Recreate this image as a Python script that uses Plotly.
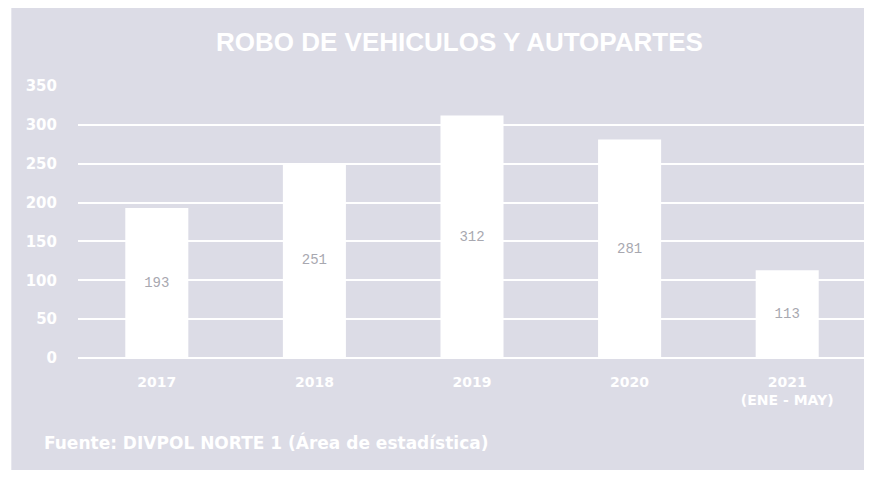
import plotly.graph_objects as go

categories = ["2017", "2018", "2019", "2020", "2021<br>(ENE - MAY)"]
values = [193, 251, 312, 281, 113]
y_ticks = [0, 50, 100, 150, 200, 250, 300, 350]

title_text = "ROBO DE VEHICULOS Y AUTOPARTES"
source_text = "Fuente: DIVPOL NORTE 1 (Área de estadística)"

BG = "#dcdce6"
FONT = "Liberation Sans"
FONT2 = "DejaVu Sans"

fig = go.Figure()
fig.add_trace(go.Bar(
    x=categories, y=values,
    marker=dict(color="white", line=dict(width=0)),
    width=0.4,
    text=[str(v) for v in values],
    textposition="inside",
    insidetextanchor="middle",
    textfont=dict(family="Liberation Mono", size=14, color="#a8a8b0"),
    textangle=0,
    showlegend=False,
))

fig.update_layout(
    width=864, height=470,
    margin=dict(l=70, r=6, t=78, b=120),
    paper_bgcolor="white",
    plot_bgcolor="rgba(0,0,0,0)",
    bargap=0.6,
    shapes=[dict(type="rect", xref="paper", yref="paper",
                 x0=-0.0846, x1=1.0103, y0=-0.4118, y1=1.2868,
                 fillcolor=BG, line=dict(width=0), layer="below")],
    annotations=[
        dict(text="<b>" + title_text + "</b>", xref="paper", yref="paper", x=0.484, y=1.162,
             xanchor="center", yanchor="middle", showarrow=False,
             font=dict(family=FONT, size=26, color="white")),
        dict(text="<b>" + source_text + "</b>", xref="paper", yref="paper",
             x=-0.046, y=-0.309, xanchor="left", yanchor="middle", showarrow=False,
             font=dict(family=FONT2, size=17, color="white")),
    ],
)
fig.update_xaxes(showgrid=False, showline=False, zeroline=False, ticks="",
                 tickfont=dict(family=FONT2, size=14, color="white", weight="bold"),
                 ticklabelstandoff=14)
fig.update_yaxes(range=[0, 350], tickvals=y_ticks, showgrid=True,
                 gridcolor="white", gridwidth=2, zeroline=True,
                 zerolinecolor="white", zerolinewidth=2, showline=False,
                 ticks="", tickfont=dict(family=FONT2, size=15, color="white", weight="bold"),
                 ticklabelstandoff=20)

fig.write_html("out.html")
